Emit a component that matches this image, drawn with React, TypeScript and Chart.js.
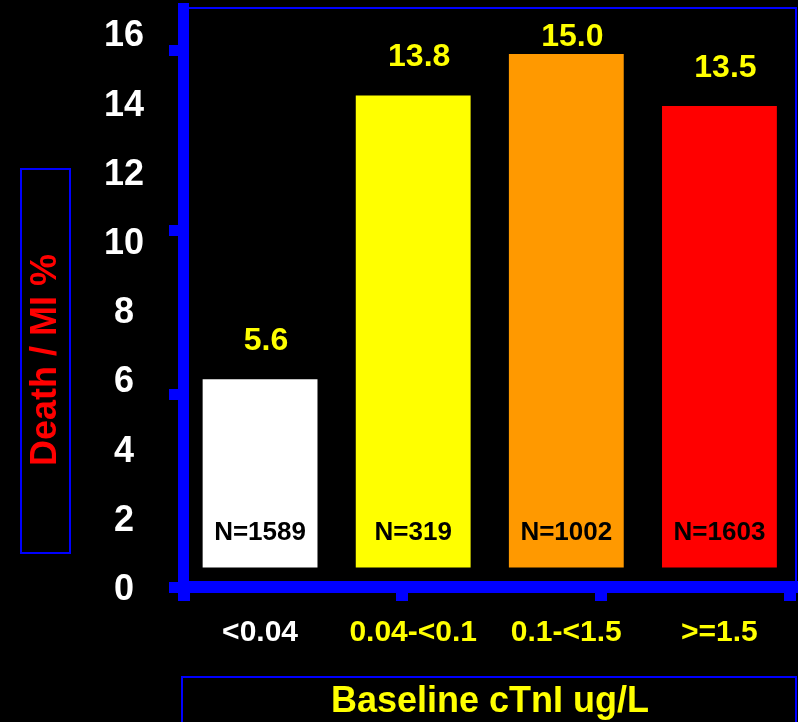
import React, { useEffect, useRef } from 'react';
import { Chart, registerables } from 'chart.js';

Chart.register(...registerables);

// ---- data ----
const categories = ['<0.04', '0.04-<0.1', '0.1-<1.5', '>=1.5'];
const deathMiPct = [5.6, 13.8, 15.0, 13.5];
const patientCounts = [1589, 319, 1002, 1603];
const barColors = ['#FFFFFF', '#FFFF00', '#FF9900', '#FF0000'];
const categoryLabelColors = ['#FFFFFF', '#FFFF00', '#FFFF00', '#FFFF00'];
const yTickLabels = [0, 2, 4, 6, 8, 10, 12, 14, 16];
const yAxisMin = -0.405;
const yAxisMax = 16.33;
const yTickMarks = [yAxisMin, 5.17, 9.9, 15.09];
const xTickMarks = [-0.5, 0.925, 2.225, 3.46];
const yTitle = 'Death / MI %';
const xTitle = 'Baseline cTnI ug/L';

const BLUE = '#0000FF';
const FONT = "'Liberation Sans', Arial, Helvetica, sans-serif";

const backgroundPlugin = {
  id: 'blackBackground',
  beforeDraw(chart: any) {
    const { ctx, width, height } = chart;
    ctx.save();
    ctx.fillStyle = '#000000';
    ctx.fillRect(0, 0, width, height);
    ctx.restore();
  },
};

const barLabelsPlugin = {
  id: 'barLabels',
  afterDatasetsDraw(chart: any) {
    const ctx = chart.ctx;
    const meta = chart.getDatasetMeta(0);
    const top = chart.chartArea.top;
    ctx.save();
    ctx.textAlign = 'center';
    ctx.textBaseline = 'middle';
    meta.data.forEach((bar: any, i: number) => {
      const { x, y, base } = bar.getProps(['x', 'y', 'base'], true);
      ctx.fillStyle = '#FFFF00';
      ctx.font = `bold 32px ${FONT}`;
      ctx.fillText(deathMiPct[i].toFixed(1), x + 6, Math.max(top + 29, y - 38));
      ctx.fillStyle = '#000000';
      ctx.font = `bold 26px ${FONT}`;
      ctx.fillText('N=' + patientCounts[i], x, base - 35);
    });
    ctx.restore();
  },
};

const titlesPlugin = {
  id: 'boxedTitles',
  afterDraw(chart: any) {
    const ctx = chart.ctx;
    ctx.save();
    ctx.strokeStyle = BLUE;
    ctx.lineWidth = 2;
    ctx.strokeRect(21, 169, 49, 384);
    ctx.strokeRect(182, 677, 614, 60);
    ctx.textAlign = 'center';
    ctx.textBaseline = 'middle';
    ctx.font = `bold 36px ${FONT}`;
    ctx.fillStyle = '#FF0000';
    ctx.save();
    ctx.translate(46, 360);
    ctx.rotate(-Math.PI / 2);
    ctx.fillText(yTitle, 0, 0);
    ctx.restore();
    ctx.fillStyle = '#FFFF00';
    ctx.fillText(xTitle, 490, 702);
    ctx.restore();
  },
};

export default function App() {
  const ref = useRef<HTMLCanvasElement>(null);

  useEffect(() => {
    if (!ref.current) return;
    Chart.defaults.font.family = FONT;
    const chart = new Chart(ref.current, {
      type: 'bar',
      data: {
        labels: categories,
        datasets: [
          {
            data: deathMiPct,
            backgroundColor: barColors,
            borderWidth: 0,
            barPercentage: 0.75,
            categoryPercentage: 1,
          },
        ],
      },
      plugins: [backgroundPlugin, barLabelsPlugin, titlesPlugin],
      options: {
        responsive: false,
        maintainAspectRatio: false,
        animation: false,
        layout: { padding: { left: 0, right: 2, top: 8, bottom: 0 } },
        plugins: {
          legend: { display: false },
          tooltip: { enabled: false },
        },
        scales: {
          x: {
            type: 'category',
            axis: 'x',
            position: 'bottom',
            weight: 1,
            offset: true,
            grid: { display: false, drawTicks: false, offset: false },
            border: { display: false },
            ticks: {
              color: (c: any) => categoryLabelColors[c.index] ?? '#FFFF00',
              font: { family: FONT, size: 30, weight: 'bold' },
              padding: 28,
              maxRotation: 0,
              autoSkip: false,
            },
            afterFit: (s: any) => {
              s.height = 135;
              s.paddingLeft = 0;
              s.paddingRight = 0;
            },
          },
          xMarks: {
            type: 'linear',
            axis: 'x',
            position: 'bottom',
            weight: 0,
            offset: false,
            min: -0.5,
            max: 3.5,
            afterBuildTicks: (s: any) => {
              s.ticks = xTickMarks.map((v) => ({ value: v }));
            },
            ticks: { display: false },
            grid: {
              display: true,
              offset: false,
              drawOnChartArea: false,
              drawTicks: true,
              tickLength: 14,
              lineWidth: 12,
              color: BLUE,
            },
            border: { display: true, color: BLUE, width: 12 },
            afterFit: (s: any) => {
              s.height = 0;
              s.paddingLeft = 0;
              s.paddingRight = 0;
            },
          },
          y: {
            type: 'linear',
            axis: 'y',
            position: 'left',
            min: yAxisMin,
            max: yAxisMax,
            beginAtZero: false,
            afterBuildTicks: (s: any) => {
              s.ticks = [...yTickLabels, ...yTickMarks]
                .sort((a, b) => a - b)
                .map((v) => ({ value: v }));
            },
            ticks: {
              autoSkip: false,
              callback: (v: any) => (yTickLabels.includes(v) ? String(v) : ''),
              color: '#FFFFFF',
              font: { family: FONT, size: 36, weight: 'bold' },
              crossAlign: 'center',
              labelOffset: 17,
              padding: 25,
            },
            grid: {
              display: true,
              offset: false,
              drawOnChartArea: false,
              drawTicks: true,
              tickLength: 14.5,
              lineWidth: 11,
              color: (c: any) =>
                c.tick && yTickMarks.includes(c.tick.value) ? BLUE : 'rgba(0,0,0,0)',
            },
            border: { display: true, color: BLUE, width: 11 },
            afterFit: (s: any) => {
              s.width = 183.5;
              s.paddingTop = 0;
              s.paddingBottom = 0;
            },
          },
          frameTop: {
            type: 'linear',
            axis: 'x',
            position: 'top',
            offset: false,
            ticks: { display: false },
            grid: { display: false, drawTicks: false, offset: false },
            border: { display: true, color: BLUE, width: 2 },
            afterFit: (s: any) => {
              s.height = 0;
              s.paddingLeft = 0;
              s.paddingRight = 0;
            },
          },
          frameRight: {
            type: 'linear',
            axis: 'y',
            position: 'right',
            offset: false,
            ticks: { display: false },
            grid: { display: false, drawTicks: false, offset: false },
            border: { display: true, color: BLUE, width: 2 },
            afterFit: (s: any) => {
              s.width = 0;
              s.paddingTop = 0;
              s.paddingBottom = 0;
            },
          },
        },
      } as any,
    });
    return () => chart.destroy();
  }, []);

  return (
    <div style={{ position: 'fixed', left: 0, top: 0, width: 798, height: 722, background: '#000' }}>
      <canvas ref={ref} width={798} height={722} style={{ display: 'block', width: 798, height: 722 }} />
    </div>
  );
}
